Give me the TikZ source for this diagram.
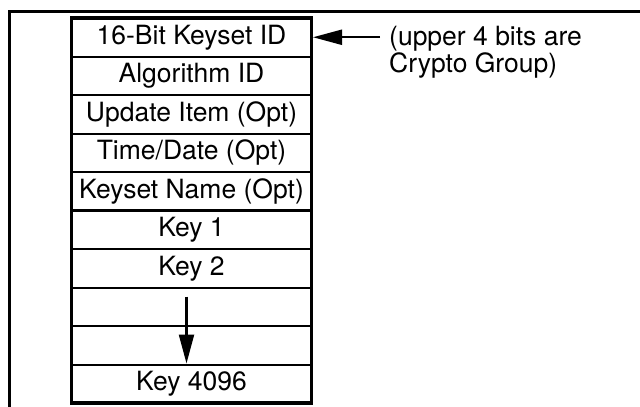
\documentclass[tikz,border=0pt]{standalone}
\usepackage{fontspec}
\setmainfont{TeX Gyre Heros}
\usetikzlibrary{arrows.meta}

\tikzset{
  cell/.style={draw, line width=2pt, minimum width=240pt, minimum height=38.5pt,
               inner sep=0pt, outer sep=0pt, anchor=north,
               font=\fontsize{26.5}{30}\selectfont},
  note/.style={align=left, inner sep=0pt, anchor=north west,
               font=\fontsize{26.5}{25.5}\selectfont},
  bigarrow/.style={line width=2.2pt, -{Triangle[length=29pt,width=15pt]}},
}

\begin{document}
\begin{tikzpicture}[x=1pt,y=-1pt]

%% some definitions
\def\rowh{38.5} % row height
\def\cx{191.5} % centre of the table
\def\ctop{18} % top of the table

\useasboundingbox (0,0) rectangle (640,407);

%% open frame round the figure
\draw[line width=3pt] (9.5,407) -- (9.5,11.5) -- (640,11.5);

%% rows of the keyset
\foreach \i/\name/\txt in {0/keysetid/16-Bit Keyset ID,
                           1/algid/Algorithm ID,
                           2/updateitem/Update Item (Opt),
                           3/timedate/{Time/Date (Opt)},
                           4/keysetname/Keyset Name (Opt),
                           5/keyone/Key 1,
                           6/keytwo/Key 2,
                           7/gapa/,
                           8/gapb/,
                           9/keylast/Key 4096}
  \node[cell] (\name) at (\cx,\ctop+\i*\rowh) {\txt};

% heavy outline and separator between header and keys
\draw[line width=3.5pt] (keysetid.north west) rectangle (keylast.south east);
\draw[line width=3.5pt] (keysetname.south west) -- (keysetname.south east);

% keys continue down to the last one
\draw[bigarrow] ([xshift=-5pt,yshift=-9pt]gapa.north) -- ([xshift=-5pt,yshift=1pt]keylast.north);

%% side note on the keyset ID
\node[note] (note) at (389,26) {(upper 4 bits are\\Crypto Group)};
\path (note.west |- keysetid.east) ++(-9,0) coordinate (notetail);
\draw[bigarrow] (notetail) -- ([xshift=1.5pt]keysetid.east);

\end{tikzpicture}
\end{document}
